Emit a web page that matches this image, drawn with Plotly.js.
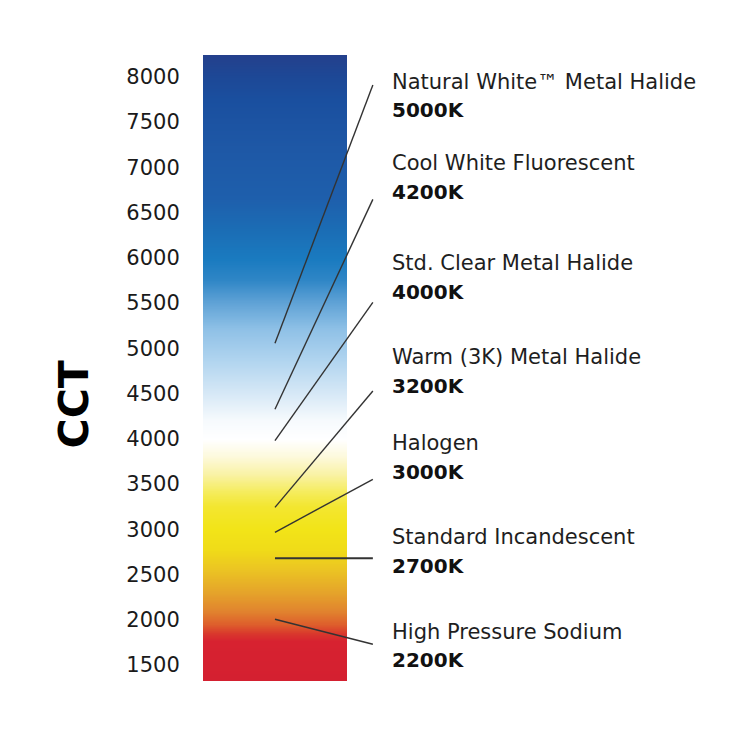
<!DOCTYPE html>
<html>
<head>
<meta charset="utf-8">
<script src="https://cdn.plot.ly/plotly-3.0.1.min.js"></script>
<style>html,body{margin:0;padding:0;background:#fff;}#chart{width:750px;height:750px;}</style>
</head>
<body>
<div id="chart"></div>
<script>
// Lamp types and their correlated colour temperatures
const categories = ["Natural White™ Metal Halide", "Cool White Fluorescent", "Std. Clear Metal Halide",
  "Warm (3K) Metal Halide", "Halogen", "Standard Incandescent", "High Pressure Sodium"];
const cctLabels = ["5000K", "4200K", "4000K", "3200K", "3000K", "2700K", "2200K"];
// Leader line: point on the bar (CCT) and end next to the label (CCT-axis units)
const leaderStart = [5054, 4325, 3978, 3242, 2966, 2679, 2005];
const leaderEnd = [7908, 6645, 5507, 4527, 3552, 2679, 1729];
const labelY = [7945, 7046, 5941, 4900, 3949, 2911, 1868];
// Axis ticks
const tickVals = [1500, 2000, 2500, 3000, 3500, 4000, 4500, 5000, 5500, 6000, 6500, 7000, 7500, 8000];
const tickText = ["1500", "2000", "2500", "3000", "3500", "4000", "4500", "5000", "5500", "6000", "6500", "7000", "7500", "8000"];
// Colour bar extent and gradient stops
const barRange = [1323, 8240];
const gradValues = [1323, 1760, 1850, 1950, 2100, 2300, 2550, 2780, 3000, 3250, 3400, 3600, 3800, 3990,
  4200, 4500, 4870, 5216, 5530, 5750, 5975, 6300, 6650, 7200, 7740, 8000, 8240];
const gradColors = ["#d42030", "#d72230", "#d93a2c", "#de602c", "#e1852e", "#e5a42a", "#ebc423", "#f0dc18",
  "#f2e418", "#f3e630", "#f5ec5a", "#f9f2a4", "#fdf9dc", "#ffffff", "#f6fafd", "#d6e8f6", "#b0d4ef",
  "#8ec0e6", "#5a9fd4", "#2f86c6", "#1a7bc0", "#1b6db5", "#1e5fac", "#1e58a6", "#1a4f9f", "#1d4896", "#24408c"];

const colorscale = gradValues.map((v, i) => [(v - barRange[0]) / (barRange[1] - barRange[0]), gradColors[i]]);
const yEdges = [];
for (let v = barRange[0]; v < barRange[1]; v += 6) yEdges.push(v);
yEdges.push(barRange[1]);
const zCol = [];
for (let i = 0; i < yEdges.length - 1; i++) zCol.push([(yEdges[i] + yEdges[i + 1]) / 2]);

const barTrace = {
  type: 'heatmap', x: [0, 1], y: yEdges, z: zCol,
  colorscale: colorscale, zmin: barRange[0], zmax: barRange[1],
  showscale: false, hoverinfo: 'skip'
};

const lineX0 = 0.5, lineX1 = 1.18, textX = 1.32;
const shapes = categories.map((c, i) => ({
  type: 'line', xref: 'x', yref: 'y', x0: lineX0, x1: lineX1, y0: leaderStart[i], y1: leaderEnd[i],
  line: {color: '#333', width: i === 5 ? 2 : 1.4}
}));

const annotations = [];
categories.forEach((c, i) => {
  annotations.push({
    xref: 'x', yref: 'y', x: textX, y: labelY[i], text: c, showarrow: false,
    xanchor: 'left', yanchor: 'middle', xshift: -3,
    font: {family: 'DejaVu Sans', size: 21, color: '#1e1e1e'}
  });
  annotations.push({
    xref: 'x', yref: 'y', x: textX, y: labelY[i], text: '<b>' + cctLabels[i] + '</b>', showarrow: false,
    xanchor: 'left', yanchor: 'middle', xshift: -3, yshift: -28.5,
    font: {family: 'DejaVu Sans', size: 20, color: '#111'}
  });
});
annotations.push({
  xref: 'paper', yref: 'paper', x: -0.2367, y: 0.441, text: '<b>CCT</b>', showarrow: false,
  textangle: -90, xanchor: 'center', yanchor: 'middle',
  font: {family: 'DejaVu Sans', size: 41, color: '#000'}
});

const layout = {
  width: 750, height: 750,
  margin: {l: 203, r: 0, t: 55, b: 69, pad: 0},
  paper_bgcolor: '#fff', plot_bgcolor: '#fff',
  showlegend: false,
  xaxis: {range: [0, 3.8], visible: false, fixedrange: true},
  yaxis: {
    range: barRange, tickvals: tickVals, ticktext: tickText,
    ticks: 'outside', ticklen: 18, tickcolor: 'rgba(0,0,0,0)',
    showgrid: false, zeroline: false, showline: false,
    tickfont: {family: 'DejaVu Sans', size: 21, color: '#1a1a1a'}
  },
  shapes: shapes,
  annotations: annotations
};

Plotly.newPlot('chart', [barTrace], layout, {displayModeBar: false, staticPlot: true});
</script>
</body>
</html>
